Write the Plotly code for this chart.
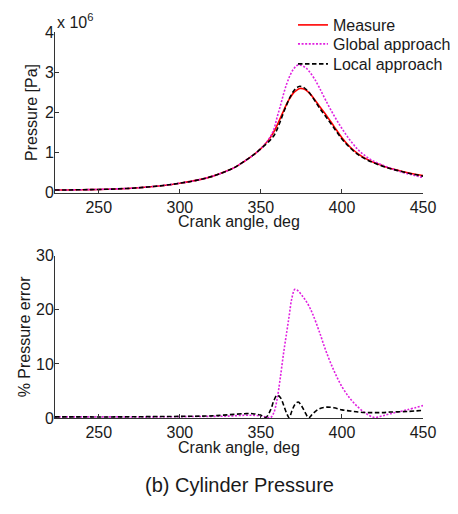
import plotly.graph_objects as go

# ---------------- data ----------------
# Crank angle grid for pressure traces (deg)
angle = [223, 230, 240, 250, 260, 270, 280, 290, 300, 310, 320, 330, 335, 340, 345,
         350, 355, 358, 360, 362, 364, 366, 368, 370, 372, 374, 376, 378, 380, 383,
         386, 390, 395, 400, 405, 410, 415, 420, 425, 430, 435, 440, 445, 450]

# Pressure, in units of 1e6 Pa
p_measure = [0.070, 0.072, 0.078, 0.085, 0.097, 0.115, 0.145, 0.185, 0.240, 0.310,
             0.410, 0.560, 0.660, 0.790, 0.930, 1.100, 1.330, 1.520, 1.680, 1.860,
             2.040, 2.220, 2.360, 2.480, 2.550, 2.595, 2.590, 2.550, 2.480, 2.330,
             2.160, 1.950, 1.660, 1.370, 1.140, 0.970, 0.845, 0.750, 0.675, 0.605,
             0.555, 0.505, 0.465, 0.430]
p_global = [0.070, 0.072, 0.078, 0.085, 0.097, 0.115, 0.145, 0.185, 0.240, 0.310,
            0.410, 0.560, 0.660, 0.790, 0.930, 1.100, 1.340, 1.580, 1.880, 2.160,
            2.460, 2.720, 2.920, 3.070, 3.160, 3.180, 3.150, 3.100, 3.010, 2.840,
            2.620, 2.300, 1.930, 1.600, 1.310, 1.070, 0.900, 0.780, 0.690, 0.610,
            0.540, 0.480, 0.430, 0.380]
p_local = [0.070, 0.072, 0.078, 0.085, 0.097, 0.115, 0.145, 0.185, 0.240, 0.310,
           0.410, 0.560, 0.660, 0.790, 0.930, 1.100, 1.280, 1.420, 1.580, 1.780,
           2.000, 2.200, 2.380, 2.520, 2.610, 2.650, 2.630, 2.570, 2.480, 2.310,
           2.120, 1.900, 1.620, 1.340, 1.120, 0.950, 0.830, 0.740, 0.665, 0.600,
           0.550, 0.500, 0.455, 0.415]

# Crank angle grid for error traces (deg)
angle_err = [223, 240, 260, 280, 300, 320, 330, 340, 345, 350, 353, 356, 358, 360,
             362, 364, 366, 367.5, 369, 371, 373, 375, 377, 379.5, 382, 386, 390,
             395, 400, 405, 410, 415, 420, 425, 430, 440, 450]
err_global = [0.2, 0.2, 0.2, 0.2, 0.25, 0.3, 0.35, 0.5, 0.5, 0.4, 0.2, 0.1, 1.0, 3.5,
              7.5, 12.0, 16.0, 19.0, 22.0, 23.8, 23.5, 22.8, 22.0, 20.8, 19.2, 16.0,
              12.5, 8.8, 5.8, 3.6, 2.0, 0.8, 0.1, 0.4, 0.8, 1.5, 2.3]
err_local = [0.2, 0.2, 0.2, 0.25, 0.3, 0.4, 0.6, 0.8, 0.8, 0.5, 0.1, 1.5, 3.2, 4.2,
             3.8, 2.4, 0.8, 0.05, 1.2, 2.5, 2.95, 2.3, 1.2, 0.05, 0.8, 1.7, 2.0,
             1.9, 1.5, 1.3, 1.1, 1.0, 1.0, 1.0, 1.1, 1.2, 1.4]

x_ticks = [250, 300, 350, 400, 450]
p_ticks = [0, 1, 2, 3, 4]
err_ticks = [0, 10, 20, 30]

series_names = ["Measure", "Global approach", "Local approach"]

# ---------------- figure ----------------
FONT = "Liberation Sans"
TXT = "#1a1a1a"
RED = "#ff0000"
MAG = "#e020e0"
BLK = "#000000"
DOT = "2px,1.6px"
DASH = "4.5px,2.5px"

W, H = 458, 514
OFF = 8                      # the page body adds an 8px offset to the figure
# plot area edges in page pixels
LEFT, RIGHT, BOTTOM = 54.5, 423.3, 418.3
M_L = LEFT - OFF
M_R = W - (RIGHT - OFF)
M_T = 0
M_B = H - (BOTTOM - OFF)
PAPER_H = H - M_T - M_B
PAPER_W = W - M_L - M_R


def py(row):
    """page pixel row (from top) -> paper y fraction"""
    return (H - M_B - (row - OFF)) / PAPER_H


def px(col):
    """page pixel column -> paper x fraction"""
    return (col - OFF - M_L) / PAPER_W


fig = go.Figure()

fig.add_trace(go.Scatter(x=angle, y=p_measure, name=series_names[0], mode="lines",
                         line=dict(color=RED, width=1.6, shape="spline"),
                         xaxis="x", yaxis="y", legend="legend"))
fig.add_trace(go.Scatter(x=angle, y=p_global, name=series_names[1], mode="lines",
                         line=dict(color=MAG, width=1.6, dash=DOT, shape="spline"),
                         xaxis="x", yaxis="y", legend="legend2"))
fig.add_trace(go.Scatter(x=angle, y=p_local, name=series_names[2], mode="lines",
                         line=dict(color=BLK, width=1.6, dash=DASH, shape="spline"),
                         xaxis="x", yaxis="y", legend="legend3"))

fig.add_trace(go.Scatter(x=angle_err, y=err_global, name=series_names[1], mode="lines",
                         line=dict(color=MAG, width=1.6, dash=DOT, shape="spline"),
                         xaxis="x2", yaxis="y2", showlegend=False))
fig.add_trace(go.Scatter(x=angle_err, y=err_local, name=series_names[2], mode="lines",
                         line=dict(color=BLK, width=1.6, dash=DASH, shape="spline"),
                         xaxis="x2", yaxis="y2", showlegend=False))

axis_common = dict(showgrid=False, zeroline=False, showline=True, linecolor="#333333",
                   linewidth=1, ticks="inside", ticklen=4, tickcolor="#333333",
                   tickfont=dict(size=16, color=TXT, family=FONT), mirror=False,
                   automargin=False)


def legend_at(top_row):
    return dict(x=px(293), y=py(top_row), xanchor="left", yanchor="top",
                bgcolor="rgba(0,0,0,0)", borderwidth=0,
                font=dict(size=16, family=FONT, color=TXT),
                tracegroupgap=0, itemwidth=30)


fig.update_layout(
    width=W, height=H,
    margin=dict(l=M_L, r=M_R, t=M_T, b=M_B),
    paper_bgcolor="white", plot_bgcolor="white",
    font=dict(family=FONT, size=16, color=TXT),
    showlegend=True,
    legend=legend_at(8),
    legend2=legend_at(27),
    legend3=legend_at(47),
    xaxis=dict(domain=[0, 1], range=[223, 450], tickvals=x_ticks, anchor="y",
               **axis_common),
    yaxis=dict(domain=[py(193), py(32)], range=[0, 4], tickvals=p_ticks, anchor="x",
               ticklabelstandoff=-3,
               title=dict(text="Pressure [Pa]", standoff=3,
                          font=dict(size=16, family=FONT)), **axis_common),
    xaxis2=dict(domain=[0, 1], range=[223, 450], tickvals=x_ticks, anchor="y2",
                **axis_common),
    yaxis2=dict(domain=[py(418.3), py(256)], range=[0, 30], tickvals=err_ticks,
                anchor="x2", ticklabelstandoff=-3,
                title=dict(text="% Pressure error", standoff=1,
                           font=dict(size=16, family=FONT)), **axis_common),
)

# x-axis titles (placed just under the tick labels, as in the original)
fig.add_annotation(text="Crank angle, deg", xref="x domain", yref="paper",
                   x=0.5, y=py(222), xanchor="center", yanchor="middle",
                   showarrow=False, font=dict(size=16, family=FONT, color=TXT))
fig.add_annotation(text="Crank angle, deg", xref="x2 domain", yref="paper",
                   x=0.5, y=py(448), xanchor="center", yanchor="middle",
                   showarrow=False, font=dict(size=16, family=FONT, color=TXT))

fig.add_annotation(text="x 10<sup>6</sup>", xref="paper", yref="paper",
                   x=0.0, y=py(33), xanchor="left", yanchor="bottom", showarrow=False,
                   font=dict(size=16, family=FONT, color=TXT))
fig.add_annotation(text="(b) Cylinder Pressure", xref="paper", yref="paper",
                   x=0.5, y=py(485), xanchor="center", yanchor="middle",
                   showarrow=False, font=dict(size=20, family=FONT, color=TXT))

fig.write_html("out.html")
